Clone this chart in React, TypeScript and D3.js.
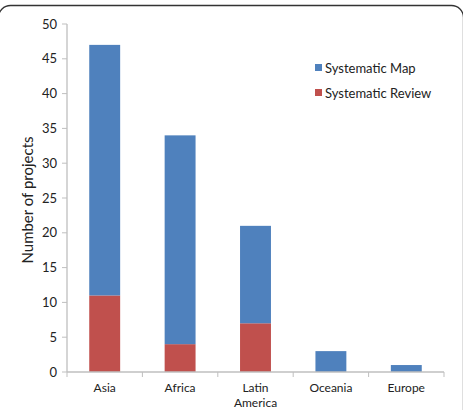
import React from "react";
import * as d3 from "d3";

// projects per region, split by type
const regions = ["Asia", "Africa", "Latin America", "Oceania", "Europe"];
const reviewCounts = [11, 4, 7, 0, 0];
const mapCounts = [36, 30, 14, 3, 1];
const seriesNames = ["Systematic Review", "Systematic Map"];
const yTicks = [0, 5, 10, 15, 20, 25, 30, 35, 40, 45, 50];

const W = 463,
  H = 410;
const margin = { top: 24, right: 19, bottom: 38, left: 67 };
const colors: Record<string, string> = {
  "Systematic Review": "#C0504D",
  "Systematic Map": "#4F81BD",
};
const font = "Lato, 'Open Sans', sans-serif";

const rows = regions.map((r, i) => ({
  region: r,
  "Systematic Review": reviewCounts[i],
  "Systematic Map": mapCounts[i],
}));

export default function App() {
  const x = d3
    .scaleBand()
    .domain(regions)
    .range([margin.left, W - margin.right])
    .paddingInner(0.59)
    .paddingOuter(0.295);
  const y = d3
    .scaleLinear()
    .domain([0, 50])
    .range([H - margin.bottom, margin.top]);

  const stacked = d3.stack<any>().keys(seriesNames)(rows);
  const step = x.step();
  const x0 = margin.left;
  const bottom = H - margin.bottom;

  return (
    <svg
      width={W}
      height={H}
      style={{ position: "absolute", left: 0, top: 0, background: "#fff" }}
      fontFamily={font}
    >
      {/* frame, sides run off the edges */}
      <rect x={-1.5} y={5.5} width={465} height={500} rx={12} fill="none" stroke="#333" strokeWidth={1.3} />

      {/* bars */}
      {stacked.map((s) => (
        <g key={s.key} fill={colors[s.key]}>
          {s.map((d, i) =>
            d[1] - d[0] > 0 ? (
              <rect
                key={i}
                x={x(regions[i])}
                width={x.bandwidth()}
                y={y(d[1])}
                height={y(d[0]) - y(d[1])}
              />
            ) : null
          )}
        </g>
      ))}

      {/* y axis */}
      <line x1={x0} x2={x0} y1={margin.top} y2={bottom} stroke="#BFBFBF" strokeWidth={1.3} />
      {yTicks.map((t) => (
        <g key={t}>
          <line x1={x0 - 5} x2={x0} y1={y(t)} y2={y(t)} stroke="#BFBFBF" />
          <text x={x0 - 10} y={y(t)} dy="0.35em" textAnchor="end" fontSize={13} fill="#222">
            {t}
          </text>
        </g>
      ))}
      <text
        transform={`translate(33,${(margin.top + bottom) / 2 + 2}) rotate(-90)`}
        textAnchor="middle"
        fontSize={15}
        fill="#222"
      >
        Number of projects
      </text>

      {/* x axis */}
      <line x1={x0} x2={W - margin.right} y1={bottom} y2={bottom} stroke="#BFBFBF" strokeWidth={1.3} />
      {d3.range(regions.length + 1).map((i) => (
        <line
          key={i}
          x1={x0 + i * step}
          x2={x0 + i * step}
          y1={bottom}
          y2={bottom + 5}
          stroke="#BFBFBF"
        />
      ))}
      {regions.map((r) => {
        const cx = (x(r) as number) + x.bandwidth() / 2;
        const words = r === "Latin America" ? ["Latin", "America"] : [r];
        return words.map((w, k) => (
          <text
            key={r + k}
            x={cx}
            y={bottom + 20 + k * 14.5}
            textAnchor="middle"
            fontSize={12}
            fill="#222"
          >
            {w}
          </text>
        ));
      })}

      {/* legend */}
      {["Systematic Map", "Systematic Review"].map((k, i) => (
        <g key={k} transform={`translate(315,${64 + i * 25})`}>
          <rect width={7} height={7} fill={colors[k]} />
          <text x={10} y={4} dy="0.35em" fontSize={13} fill="#222">
            {k}
          </text>
        </g>
      ))}
    </svg>
  );
}
